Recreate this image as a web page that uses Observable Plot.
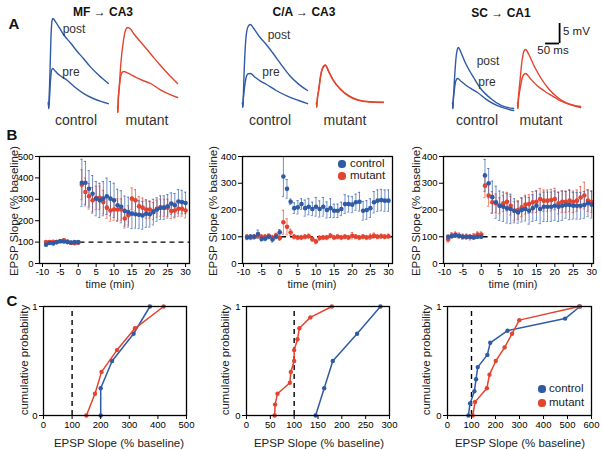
<!DOCTYPE html>
<html><head><meta charset="utf-8">
<script src="https://cdn.jsdelivr.net/npm/d3@7"></script>
<script src="https://cdn.jsdelivr.net/npm/@observablehq/plot@0.6"></script>
<style>
body{margin:0;background:#fff;}
#fig{position:relative;width:602px;height:450px;font-family:"Liberation Sans",Arial,sans-serif;color:#222;overflow:hidden;background:#fff;}
.abs{position:absolute;white-space:nowrap;line-height:1;}
.c{transform:translate(-50%,-50%);}
.l{transform:translate(0,-50%);}
.rot{transform:translate(-50%,-50%) rotate(-90deg);}
</style></head><body><div id="fig"></div>
<script>
const BLUE = "#2f5aa6", RED = "#e4432e";
const FONT = "Liberation Sans, Arial, sans-serif";

// ---------- Panel A: example traces (t in ms, mV) ----------
const mfCtrlPost = [[0,0],[1,-1.5],[2,0],[5,6],[9,16],[13,20.5],[16,21],[25,20.2],[40,18.6],[54,17],[80,14.8],[100,13],[125,11],[150,8.9],[180,6.8],[214,4.75]];
const mfCtrlPre  = [[0,0],[1,-1.5],[3,0],[7,5],[11,8],[15,8.5],[25,7.8],[40,6.8],[68,5.5],[95,3.8],[125,2.3],[160,1],[190,0.2],[214,-0.3]];
const mfMutPost  = [[0,-1],[1,-2.5],[2,0],[6,4],[12,10],[20,15],[28,18],[36,18.75],[46,18.4],[60,17],[90,14.5],[120,12],[150,9.5],[180,7.2],[214,4.75]];
const mfMutPre   = [[0,-1],[1,-2.5],[2,0],[5,3],[10,6],[16,7.5],[22,7.75],[35,7.4],[60,6.5],[90,5.5],[118,4.75],[150,3.3],[180,2.2],[214,1.25]];
const caCtrlPost = [[0,0],[1,-1.2],[2,0],[6,8],[12,16],[20,19],[28,19.5],[40,18.5],[60,16.5],[85,14.5],[107,12.5],[135,9.8],[168,6.75],[200,4.6],[232,3]];
const caCtrlPre  = [[0,0],[1,-1.2],[2,0],[6,3],[12,6],[20,7.2],[28,7.25],[45,6.3],[65,5.3],[86,4.5],[120,3],[160,1.6],[200,0.5],[232,-0.3]];
const caMutPost  = [[0,0],[1,-1.2],[2,0],[8,3.2],[16,7.2],[26,9.2],[32,9.4],[45,7.6],[60,5.6],[86,3.3],[115,1.7],[146,0.7],[190,0.2],[239,0.1]];
const caMutPre   = [[0,0],[1,-1.2],[2,0],[8,3],[16,7],[26,9],[32,9.25],[45,7.5],[60,5.5],[86,3.25],[115,1.6],[146,0.6],[190,0.1],[239,0]];
const scCtrlPost = [[0,0],[1,-1.5],[2,0],[6,5],[12,11],[18,13.5],[21,13.75],[30,12.5],[45,10],[60,8],[75,6.25],[100,3.5],[136,1],[175,-0.8],[218,-1.5]];
const scCtrlPre  = [[0,0],[1,-1.5],[2,0],[6,3],[12,5.5],[18,6],[30,5.3],[50,4.2],[70,3.3],[89,2.5],[120,0.8],[160,-0.8],[218,-2]];
const scMutPost  = [[0,0],[1,-1.5],[2,0],[8,5],[16,10.5],[24,13],[29,13.25],[40,12],[60,9],[82,6.25],[110,3.5],[143,1.25],[180,-0.3],[225,-1]];
const scMutPre   = [[0,0],[1,-1.5],[2,0],[8,3],[16,6],[24,7.1],[29,7.25],[45,6],[70,4.2],[93,3],[120,1.8],[160,0.2],[225,-1.25]];
const scaleBarMs = 50, scaleBarMv = 5;

// ---------- Panel B: time course (min, % baseline) ----------
const bTime = [-9,-8,-7,-6,-5,-4,-3,-2,-1,0,1,2,3,4,5,6,7,8,9,10,11,12,13,14,15,16,17,18,19,20,21,22,23,24,25,26,27,28,29,30];
const bTicksX = [-10,-5,0,5,10,15,20,25,30];

const mfCtrl = [88,96,94,100,104,103,100,98,100,100, 377,377,349,326,303,295,303,314,303,295,272,265,245,240,233,230,228,225,233,230,240,252,261,261,267,280,272,290,287,283];
const mfCtrlErr = [6,6,6,6,6,6,6,6,6,6, 110,100,85,85,80,80,80,85,80,80,75,75,70,70,70,65,65,65,65,60,60,55,55,55,55,50,55,55,55,50];
const mfMut = [100,100,101,100,104,108,103,96,95,97, 368,334,314,295,306,307,287,261,248,252,252,252,210,225,303,295,267,261,252,252,245,256,261,261,261,245,248,256,256,248];
const mfMutErr = [6,6,6,6,6,6,6,6,6,6, 70,65,60,60,55,55,55,50,50,50,50,50,45,45,50,50,45,45,40,40,40,40,40,40,40,35,35,35,35,35];

const caCtrl = [97,100,100,110,92,93,100,90,100,117, 325,279,231,207,210,222,207,212,204,212,204,212,200,207,197,197,204,222,222,220,229,231,197,200,207,229,235,237,235,235];
const caCtrlErr = [8,8,8,15,8,8,8,10,8,10, 75,35,10,20,25,20,30,30,25,35,30,35,30,35,25,25,25,35,30,30,30,35,35,35,35,40,40,40,40,40];
const caMut = [100,97,100,103,100,100,103,97,105,95, 154,137,116,100,97,97,100,102,91,82,95,97,97,104,97,100,97,100,97,104,100,97,100,97,100,104,100,102,100,102];
const caMutErr = [8,8,8,8,8,8,8,8,8,8, 45,30,12,8,8,8,8,8,8,8,8,8,8,8,8,8,8,8,8,12,8,8,8,8,10,10,8,8,8,8];

const scCtrl = [100,102,105,103,100,100,100,97,100,100, 329,300,248,229,216,212,206,204,197,191,200,204,197,207,216,204,212,212,212,216,212,216,219,219,216,216,216,219,225,220];
const scCtrlErr = [6,6,6,6,6,6,6,6,6,6, 60,55,60,60,55,55,55,55,45,40,45,45,50,50,55,55,55,55,55,55,55,55,50,55,50,50,50,50,50,50];
const scMut = [90,105,108,104,100,100,98,102,108,108, 291,254,229,225,216,225,231,216,197,200,210,220,222,229,231,241,235,235,237,241,225,231,231,235,231,235,247,254,235,231];
const scMutErr = [10,10,10,10,10,10,10,10,10,10, 45,40,40,35,30,30,35,35,35,35,35,35,35,40,40,40,40,40,40,40,40,40,40,40,40,40,40,50,40,40];

// ---------- Panel C: cumulative distributions (% baseline, probability) ----------
const c1Ctrl = [[200,0],[200,0.25],[240,0.5],[315,0.75],[372,1]];
const c1Mut  = [[150,0],[180,0.2],[203,0.4],[257,0.6],[320,0.8],[420,1]];
const c2Ctrl = [[145,0],[163,0.25],[181,0.5],[232,0.75],[281,1]];
const c2Mut  = [[59,0],[60,0.1],[65,0.2],[91,0.3],[93,0.4],[100,0.5],[100,0.6],[107,0.7],[111,0.8],[134,0.9],[179,1]];
const c3Ctrl = [[87,0],[94,0.111],[112,0.222],[119,0.333],[126,0.444],[166,0.556],[178,0.667],[250,0.778],[490,0.889],[552,1]];
const c3Mut  = [[105,0],[115,0.125],[164,0.25],[175,0.375],[201,0.5],[238,0.625],[269,0.75],[299,0.875],[548,1]];

const fig = document.getElementById("fig");
function addPlot(svg, left, top) {
  const d = document.createElement("div");
  d.className = "abs"; d.style.left = left + "px"; d.style.top = top + "px";
  d.appendChild(svg); fig.appendChild(d);
}
function addText(txt, x, y, o = {}) {
  const d = document.createElement("div");
  d.className = "abs " + (o.rot ? "rot" : o.left ? "l" : "c");
  d.style.left = x + "px"; d.style.top = y + "px";
  d.style.fontSize = (o.size || 11.5) + "px";
  if (o.bold) d.style.fontWeight = "bold";
  d.style.color = o.color || "#222";
  d.textContent = txt; fig.appendChild(d);
}
function addDot(x, y, color) {
  const d = document.createElement("div");
  d.className = "abs";
  Object.assign(d.style, {left:(x-3.6)+"px", top:(y-3.6)+"px", width:"7.2px", height:"7.2px", borderRadius:"50%", background:color});
  fig.appendChild(d);
}
const style = {fontFamily: FONT, fontSize: "9.5px", background: "transparent", overflow: "visible", color: "#000"};

// ---- Panel A
function tracePlot(traces, extra = []) {
  const marks = traces.map(tr => Plot.line(tr.data, {x: d => d[0] + tr.off, y: d => d[1], stroke: tr.color, strokeWidth: 1.4, curve: "monotone-x"}));
  return Plot.plot({width: 200, height: 110, margin: 0,
    x: {domain: [0, 714], axis: null}, y: {domain: [-2, 25.5], axis: null},
    style, marks: [...marks, ...extra]});
}
addPlot(tracePlot([
  {data: mfCtrlPost, off: 171, color: BLUE}, {data: mfCtrlPre, off: 171, color: BLUE},
  {data: mfMutPost, off: 418, color: RED}, {data: mfMutPre, off: 418, color: RED}]), 0, 0);
addPlot(tracePlot([
  {data: caCtrlPost, off: 150, color: BLUE}, {data: caCtrlPre, off: 150, color: BLUE},
  {data: caMutPost, off: 414, color: RED}, {data: caMutPre, off: 414, color: RED}]), 200, 0);
const sbX = 568, sbY = 14.75;
addPlot(tracePlot([
  {data: scCtrlPost, off: 186, color: BLUE}, {data: scCtrlPre, off: 186, color: BLUE},
  {data: scMutPost, off: 418, color: RED}, {data: scMutPre, off: 418, color: RED}],
  [Plot.ruleX([sbX], {y1: sbY, y2: sbY + scaleBarMv, stroke: "#000", strokeWidth: 1.8}),
   Plot.ruleY([sbY], {x1: sbX - scaleBarMs, x2: sbX, stroke: "#000", strokeWidth: 1.8})]), 400, 0);

// ---- Panel B
function bPlot(ctrl, ctrlErr, mut, mutErr, ymax, yticks, xdom, ml, mr) {
  const rows = (m, e, col) => bTime.map((t, i) => ({t, v: m[i], lo: m[i] - e[i], hi: m[i] + e[i], col}));
  const M = rows(mut, mutErr, RED), C = rows(ctrl, ctrlErr, BLUE);
  const all = [...M, ...C];
  return Plot.plot({width: 200, height: 145, marginLeft: ml, marginRight: mr, marginTop: 16, marginBottom: 22,
    x: {domain: xdom}, y: {domain: [0, ymax]}, style,
    marks: [
      Plot.ruleY([100], {x1: 0.5, x2: xdom[1], stroke: "#000", strokeWidth: 1.4, strokeDasharray: "5,4"}),
      Plot.ruleX(all, {x: "t", y1: "lo", y2: "hi", stroke: "col", strokeOpacity: 0.75, strokeWidth: 0.9}),
      Plot.ruleY(all, {y: "hi", x1: d => d.t - 0.3, x2: d => d.t + 0.3, stroke: "col", strokeOpacity: 0.75, strokeWidth: 0.9}),
      Plot.ruleY(all, {y: "lo", x1: d => d.t - 0.3, x2: d => d.t + 0.3, stroke: "col", strokeOpacity: 0.75, strokeWidth: 0.9}),
      Plot.dot(M, {x: "t", y: "v", r: 2.3, fill: RED}),
      Plot.dot(C, {x: "t", y: "v", r: 2.3, fill: BLUE}),
      Plot.frame({stroke: "#000", strokeWidth: 1.3}),
      Plot.axisX({ticks: bTicksX, tickSize: 4, tickPadding: 1, label: null, tickFormat: d => String(d)}),
      Plot.axisY({ticks: yticks, tickSize: 4, tickPadding: 2, label: null, tickFormat: d => String(d)})
    ]});
}
addPlot(bPlot(mfCtrl, mfCtrlErr, mfMut, mfMutErr, 500, [0,100,200,300,400,500], [-10.84, 31.1], 39, 11), 0, 140);
addPlot(bPlot(caCtrl, caCtrlErr, caMut, caMutErr, 400, [0,100,200,300,400], [-10.28, 31.1], 42, 8), 200, 140);
addPlot(bPlot(scCtrl, scCtrlErr, scMut, scMutErr, 400, [0,100,200,300,400], [-10.27, 30.5], 43, 7), 400, 140);

// ---- Panel C
function cPlot(ctrl, mut, xmax, xticks, ml, mr) {
  return Plot.plot({width: 200, height: 147, marginLeft: ml, marginRight: mr, marginTop: 16, marginBottom: 22,
    x: {domain: [0, xmax]}, y: {domain: [0, 1]}, style,
    marks: [
      Plot.ruleX([100], {y1: 0, y2: 1, stroke: "#000", strokeWidth: 1.4, strokeDasharray: "5,4"}),
      Plot.line(ctrl, {x: d => d[0], y: d => d[1], stroke: BLUE, strokeWidth: 1.5}),
      Plot.dot(ctrl, {x: d => d[0], y: d => d[1], r: 2.2, fill: BLUE}),
      Plot.line(mut, {x: d => d[0], y: d => d[1], stroke: RED, strokeWidth: 1.5}),
      Plot.dot(mut, {x: d => d[0], y: d => d[1], r: 2.2, fill: RED}),
      Plot.frame({stroke: "#000", strokeWidth: 1.3}),
      Plot.axisX({ticks: xticks, tickSize: 4, tickPadding: 2, label: null, tickFormat: d => String(d)}),
      Plot.axisY({ticks: [0, 1], tickSize: 4, tickPadding: 2, label: null, tickFormat: d => String(d)})
    ]});
}
addPlot(cPlot(c1Ctrl, c1Mut, 500, [0,100,200,300,400,500], 43, 14), 0, 290);
addPlot(cPlot(c2Ctrl, c2Mut, 300, [0,50,100,150,200,250,300], 46, 11), 200, 290);
addPlot(cPlot(c3Ctrl, c3Mut, 600, [0,100,200,300,400,500,600], 47, 9), 400, 290);

// ---- Text
addText("A", 14, 23, {size: 15, bold: true, color: "#111"});
addText("B", 12, 134, {size: 15, bold: true, color: "#111"});
addText("C", 12, 300, {size: 15, bold: true, color: "#111"});
addText("MF → CA3", 103, 12, {size: 12, bold: true, color: "#111"});
addText("C/A → CA3", 304, 12, {size: 12, bold: true, color: "#111"});
addText("SC → CA1", 501, 13, {size: 12, bold: true, color: "#111"});
addText("post", 74, 29, {size: 12, color: "#333"});
addText("pre", 71, 72, {size: 12, color: "#333"});
addText("post", 279, 35, {size: 12, color: "#333"});
addText("pre", 271, 72, {size: 12, color: "#333"});
addText("post", 488, 61, {size: 12, color: "#333"});
addText("pre", 487, 82, {size: 12, color: "#333"});
[[76,"control"],[147,"mutant"],[270,"control"],[345,"mutant"],[477,"control"],[541,"mutant"]]
  .forEach(([x, t]) => addText(t, x, 120, {size: 14, color: "#333"}));
addText("5 mV", 563, 32, {size: 11.5, left: true, color: "#222"});
addText("50 ms", 553, 51, {size: 11.5, color: "#222"});
[15, 214, 417].forEach(x => addText("EPSP Slope (% baseline)", x, 211, {rot: true}));
[110, 312, 513].forEach(x => addText("time (min)", x, 283.5, {size: 11}));
[25, 226, 427].forEach(x => addText("cumulative probability", x, 360, {rot: true}));
[119, 319, 520].forEach(x => addText("EPSP Slope (% baseline)", x, 444));
addDot(342, 164, BLUE); addText("control", 350, 164, {left: true});
addDot(342, 176, RED); addText("mutant", 350, 176, {left: true});
addDot(542, 389, BLUE); addText("control", 549, 389, {left: true});
addDot(542, 403, RED); addText("mutant", 549, 403, {left: true});
</script></body></html>
